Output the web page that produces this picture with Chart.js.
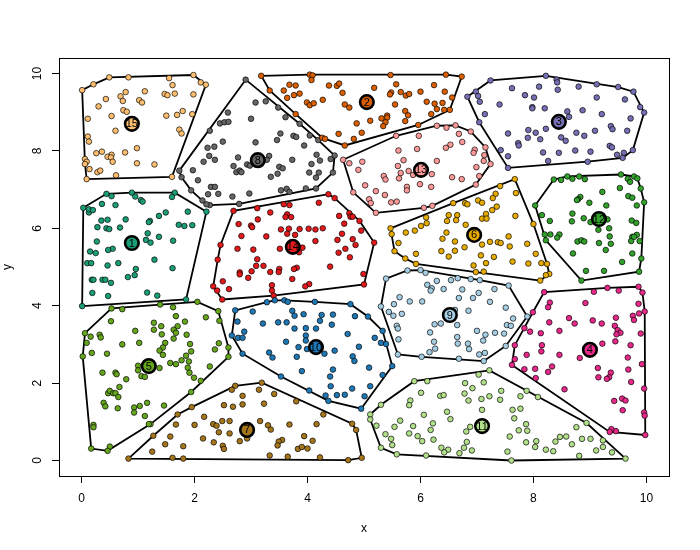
<!DOCTYPE html>
<html>
<head>
<meta charset="utf-8">
<style>body{margin:0;background:#fff}canvas{display:block}</style>
<script src="https://cdn.jsdelivr.net/npm/chart.js@4"></script>
</head>
<body>
<canvas id="plot" width="700" height="550"></canvas>
<script>
const tickValues = [0, 2, 4, 6, 8, 10];
const clusterColors = ['#1B9E77','#D95F02','#7570B3','#E7298A','#66A61E','#E6AB02','#A6761D','#666666','#A6CEE3','#1F78B4','#B2DF8A','#33A02C','#FB9A99','#E31A1C','#FDBF6F'];
const centerLabels = ['1','2','3','4','5','6','7','8','9','10','11','12','13','14','15'];
const centers = [[.89,5.62],[5.05,9.26],[8.45,8.75],[9.0,2.86],[1.19,2.44],[6.95,5.83],[2.93,.79],[3.12,7.76],[6.52,3.76],[4.15,2.93],[7.09,.89],[9.16,6.24],[6.01,7.51],[3.74,5.52],[.89,8.70]];

const cluster1 = [[.44,6.89],[.53,6.83],[.89,6.92],[.95,6.82],[1.05,6.73],[1.08,6.69],[1.65,6.92],[1.60,6.81],[.03,6.53],[.13,6.41],[.13,6.49],[.20,6.47],[.36,6.63],[.60,6.60],[2.21,6.43],[1.88,6.43],[1.49,6.41],[1.37,6.32],[.78,6.23],[.35,6.20],[.46,6.22],[1.21,6.19],[1.19,6.16],[.28,6.03],[.44,6.00],[.49,5.98],[.68,6.02],[1.72,6.09],[1.82,6.06],[1.96,6.08],[1.17,5.87],[1.37,5.78],[1.14,5.70],[1.22,5.63],[1.62,5.68],[.27,5.66],[.55,5.47],[.47,5.44],[.15,5.40],[.25,5.36],[1.29,5.19],[.10,5.10],[.17,5.10],[.65,5.10],[.46,5.04],[.96,4.95],[1.61,4.97],[.94,4.79],[.82,4.74],[.18,4.67],[.21,4.67],[.37,4.67],[.42,4.67],[.52,4.59],[.19,4.33],[.47,4.25],[1.16,4.34],[1.34,4.26],[1.85,4.16],[.01,3.99]];
const cluster2 = [[3.18,9.94],[4.04,9.97],[4.09,9.95],[4.07,9.83],[3.33,9.56],[3.68,9.71],[3.79,9.69],[3.58,9.56],[3.64,9.37],[3.76,9.44],[3.86,9.48],[4.38,9.69],[4.52,9.68],[4.56,9.74],[4.62,9.50],[3.99,9.25],[4.04,9.18],[4.11,9.23],[4.27,9.32],[4.66,9.20],[4.74,9.12],[3.79,8.95],[4.87,8.71],[4.55,8.44],[4.82,8.31],[4.26,8.34],[4.31,8.31],[4.66,8.14],[5.47,9.96],[6.45,9.97],[6.73,9.92],[5.57,9.72],[5.18,9.63],[6.24,9.70],[5.48,9.51],[5.46,9.46],[5.65,9.52],[5.74,9.43],[5.80,9.47],[6.00,9.53],[6.43,9.53],[6.56,9.38],[6.11,9.27],[6.25,9.22],[6.39,9.24],[5.55,9.20],[6.29,9.08],[6.42,9.06],[6.52,9.06],[5.73,9.03],[5.78,8.92],[6.19,8.95],[5.31,8.84],[5.41,8.91],[5.41,8.86],[5.38,8.74],[5.34,8.64],[5.73,8.77],[5.11,8.78],[4.96,8.47],[5.96,8.67]];
const cluster3 = [[7.24,9.82],[6.98,9.53],[6.83,9.40],[7.02,9.42],[7.05,9.27],[7.14,8.95],[7.04,8.74],[8.22,9.94],[9.12,9.72],[9.50,9.65],[9.77,9.53],[9.89,9.13],[9.96,8.99],[9.76,8.02],[9.60,7.95],[9.58,7.82],[9.48,7.90],[8.96,7.72],[7.55,7.56],[8.26,7.74],[8.41,9.84],[8.42,9.77],[8.43,9.58],[8.10,9.66],[7.62,9.62],[8.80,9.66],[7.85,9.44],[8.01,9.38],[9.12,9.38],[9.62,9.33],[7.40,9.20],[7.98,9.13],[7.98,9.10],[8.20,9.10],[8.60,9.02],[8.87,9.05],[8.63,8.88],[9.21,8.95],[9.72,8.84],[8.22,8.57],[7.91,8.54],[8.04,8.47],[7.55,8.45],[7.90,8.34],[8.12,8.30],[8.49,8.35],[8.57,8.26],[8.76,8.47],[8.90,8.39],[9.09,8.52],[9.37,8.64],[9.40,8.56],[9.66,8.52],[7.73,8.20],[7.74,8.14],[7.42,8.02],[7.55,7.86],[8.17,7.96],[8.45,7.95],[8.74,8.01],[9.01,7.98],[9.35,8.13],[9.39,8.09]];
const cluster4 = [[8.19,4.35],[9.07,4.36],[9.31,4.46],[9.51,4.39],[9.86,4.49],[9.93,4.34],[9.97,3.85],[9.98,.66],[9.46,.76],[9.38,.81],[9.35,.74],[7.62,2.47],[7.67,2.62],[7.67,2.98],[7.84,3.42],[7.99,3.83],[8.29,4.08],[8.26,3.96],[8.92,4.07],[9.86,4.05],[9.87,3.80],[9.76,3.74],[9.78,3.63],[9.46,3.69],[8.63,3.68],[8.73,3.54],[8.28,3.57],[9.05,3.62],[9.21,3.54],[9.44,3.48],[9.49,3.37],[9.54,3.30],[9.47,3.26],[9.90,3.28],[7.94,3.33],[8.13,3.29],[8.46,3.35],[9.45,3.08],[9.22,3.02],[9.72,2.98],[8.15,2.98],[8.14,2.82],[7.88,2.73],[8.46,2.73],[8.82,2.65],[9.67,2.66],[9.92,2.49],[8.33,2.43],[8.26,2.29],[7.84,2.36],[8.03,2.37],[8.04,2.13],[9.14,2.39],[9.68,2.35],[9.37,2.27],[9.34,2.15],[9.30,2.11],[9.15,2.15],[9.73,2.03],[8.55,1.84],[9.96,1.86],[9.57,1.60],[9.63,1.55],[9.43,1.54],[9.58,1.30],[9.96,1.24],[9.97,1.16]];
const cluster5 = [[.53,3.93],[.72,3.91],[1.39,4.03],[1.62,3.96],[2.05,4.10],[2.42,3.86],[2.44,3.61],[2.60,2.92],[2.60,2.68],[2.11,2.06],[1.94,1.77],[1.22,.94],[1.19,.94],[.50,.36],[.46,.25],[.17,.31],[.02,2.69],[.09,3.04],[.06,3.29],[.52,3.60],[1.67,3.73],[2.20,3.70],[1.83,3.59],[1.28,3.56],[1.41,3.47],[1.28,3.38],[1.70,3.47],[1.63,3.38],[1.67,3.30],[.95,3.35],[1.42,3.26],[1.86,3.25],[.16,3.20],[.32,3.25],[.34,3.18],[1.63,3.15],[.72,3.00],[1.02,3.04],[1.48,3.04],[1.92,3.01],[2.43,3.03],[2.36,2.87],[1.44,2.92],[1.38,2.84],[1.94,2.82],[.18,2.78],[.45,2.76],[1.44,2.73],[1.85,2.71],[1.77,2.59],[1.90,2.56],[1.57,2.52],[1.67,2.49],[1.88,2.40],[1.00,2.45],[1.00,2.33],[1.38,2.39],[2.27,2.43],[1.91,2.27],[1.99,2.14],[.37,2.27],[.60,2.27],[.62,2.23],[1.06,2.18],[1.12,2.16],[.79,2.10],[.67,1.90],[.47,1.74],[.50,1.80],[.56,1.74],[.60,1.74],[.65,1.64],[.39,1.49],[.42,1.40],[.64,1.35],[1.16,1.49],[1.03,1.41],[.93,1.37],[.93,1.24],[1.46,1.42],[1.12,1.15],[.21,.92],[.21,.86]];
const cluster6 = [[5.47,6.00],[5.49,5.85],[5.54,5.41],[5.61,5.62],[5.73,5.22],[5.92,5.34],[5.92,5.08],[5.74,5.89],[5.90,5.94],[6.01,6.06],[6.11,6.13],[6.10,6.28],[6.47,6.19],[6.50,6.34],[6.65,6.34],[6.63,6.21],[6.58,6.65],[6.79,6.65],[6.83,6.62],[7.02,6.72],[7.09,6.66],[7.33,6.89],[7.28,6.78],[7.35,6.56],[7.27,6.47],[7.16,6.37],[7.09,6.25],[7.17,6.25],[6.80,6.09],[6.46,5.89],[6.39,5.73],[6.61,5.66],[6.78,5.51],[6.37,5.41],[6.61,5.42],[6.50,5.27],[7.09,5.58],[7.23,5.65],[7.37,5.64],[7.07,5.30],[7.30,5.26],[7.16,5.10],[6.94,5.04],[6.98,4.87],[7.12,4.88],[7.67,7.27],[7.41,7.09],[7.69,6.91],[7.68,6.32],[8.00,6.11],[7.56,5.79],[7.42,5.62],[7.58,5.53],[7.89,5.60],[7.63,5.14],[7.91,5.09],[8.04,5.34],[8.14,5.10],[8.24,5.08],[8.28,4.82],[8.22,4.79],[8.12,4.65]];
const cluster7 = [[2.52,1.43],[1.95,1.38],[1.70,1.19],[2.17,1.13],[1.67,.93],[2.00,.92],[2.33,.94],[2.39,.90],[2.49,1.02],[2.62,1.02],[2.43,.73],[2.62,.70],[1.27,.64],[1.57,.62],[2.15,.57],[2.34,.47],[1.48,.42],[1.80,.37],[2.50,.38],[2.52,.30],[1.25,.23],[.83,.05],[1.61,.07],[1.80,.05],[2.72,1.93],[2.66,1.83],[3.19,2.01],[3.14,1.83],[3.41,1.72],[2.85,1.67],[2.85,1.45],[2.68,1.39],[3.23,1.47],[3.80,1.53],[4.28,1.19],[4.79,.95],[4.86,.79],[4.96,.07],[4.72,.01],[4.22,.08],[3.65,.10],[3.33,.13],[3.16,1.02],[3.30,.91],[3.35,.80],[3.68,.93],[4.16,.94],[2.80,.50],[2.93,.57],[3.94,.63],[4.09,.51],[3.55,.53],[3.49,.49],[3.47,.39],[3.83,.30],[3.90,.35],[4.00,.31]];
const cluster8 = [[2.27,8.52],[2.23,8.08],[2.35,8.11],[2.16,7.72],[2.26,7.87],[2.36,7.77],[1.97,7.50],[1.73,7.49],[1.77,7.32],[2.06,7.24],[1.94,6.98],[2.29,7.07],[2.36,7.07],[2.24,6.88],[2.42,6.89],[2.905,9.84],[3.08,9.25],[3.26,9.28],[3.48,9.12],[3.61,8.87],[3.86,8.70],[3.00,8.83],[2.59,8.99],[2.45,8.71],[2.53,8.74],[2.60,8.75],[3.52,8.45],[3.46,8.28],[3.75,8.39],[3.80,8.36],[3.08,8.22],[2.50,8.24],[4.04,8.40],[4.19,8.28],[3.94,8.14],[4.16,7.90],[4.22,7.75],[4.48,7.88],[4.41,7.79],[4.07,7.66],[2.77,7.83],[3.32,7.87],[3.28,7.77],[3.73,7.77],[2.69,7.61],[2.93,7.65],[2.98,7.62],[2.74,7.45],[2.80,7.49],[2.83,7.45],[3.50,7.59],[3.56,7.55],[3.47,7.41],[3.35,7.33],[4.03,7.44],[4.20,7.44],[4.15,7.31],[4.45,7.44],[4.15,7.03],[3.97,7.03],[3.53,6.98],[3.63,7.02],[3.68,6.94],[2.97,6.90],[2.67,6.82],[2.79,6.63],[2.27,6.60],[2.14,6.72],[2.21,6.62]];
const cluster9 = [[5.39,4.70],[5.77,4.91],[6.00,4.92],[6.09,4.85],[6.66,4.71],[6.89,4.69],[7.05,4.66],[7.56,4.52],[7.89,3.72],[7.51,2.96],[7.12,2.57],[6.68,2.63],[6.02,2.68],[5.60,2.74],[5.30,3.98],[6.12,4.54],[6.29,4.64],[6.54,4.66],[6.20,4.45],[6.18,4.39],[6.41,4.43],[6.74,4.42],[7.31,4.43],[6.68,4.20],[6.93,4.20],[7.03,4.33],[7.23,4.10],[5.63,4.22],[5.81,4.11],[6.03,4.11],[5.53,4.04],[5.44,3.84],[5.52,3.74],[5.67,3.79],[7.51,3.95],[6.85,3.87],[6.61,3.89],[7.64,3.67],[5.58,3.48],[5.60,3.41],[6.25,3.52],[6.36,3.54],[6.65,3.50],[7.53,3.50],[7.60,3.48],[6.17,3.31],[7.00,3.35],[7.32,3.30],[7.48,3.28],[7.15,3.25],[7.11,3.10],[5.61,3.13],[6.65,3.19],[6.24,3.07],[6.66,3.02],[6.84,3.02],[6.86,2.88],[6.26,2.89],[6.16,2.80],[7.04,2.74],[7.14,2.78]];
const cluster10 = [[2.72,3.88],[3.28,4.09],[3.42,4.14],[3.59,4.14],[3.65,4.10],[4.13,4.10],[4.76,4.04],[5.07,3.72],[5.33,3.35],[5.39,3.01],[5.50,2.44],[5.33,2.21],[4.95,1.34],[4.37,1.54],[4.03,1.81],[3.53,2.17],[2.85,2.76],[2.66,3.23],[3.03,3.85],[3.73,3.87],[3.77,3.74],[3.93,3.78],[4.25,3.76],[4.45,3.77],[4.84,3.73],[4.22,3.61],[4.43,3.51],[2.76,3.59],[3.21,3.54],[3.48,3.57],[3.63,3.57],[3.77,3.41],[3.97,3.42],[4.15,3.41],[2.88,3.33],[4.71,3.27],[3.97,3.23],[3.97,3.10],[2.77,3.17],[2.85,3.17],[3.62,3.07],[5.19,3.17],[5.30,3.04],[3.84,2.93],[3.99,2.88],[4.30,2.76],[4.48,2.84],[4.91,2.94],[3.32,2.79],[3.38,2.66],[3.81,2.68],[4.80,2.69],[4.83,2.57],[5.09,2.40],[3.90,2.31],[4.45,2.35],[4.40,2.17],[4.41,1.92],[4.79,1.86],[5.11,1.92],[4.52,1.69],[4.66,1.70],[4.32,1.68],[5.01,1.66]];
const cluster11 = [[7.22,2.33],[7.03,2.22],[6.12,2.05],[5.89,2.05],[5.30,1.44],[5.11,1.19],[5.11,1.06],[5.22,.90],[5.30,.33],[5.58,.16],[6.10,.13],[7.61,0],[6.79,2.00],[7.12,2.02],[6.92,1.87],[6.78,1.73],[6.01,1.75],[6.35,1.67],[6.41,1.69],[7.43,1.80],[7.22,1.66],[7.41,1.57],[7.08,1.59],[6.85,1.55],[7.88,1.80],[7.77,1.66],[5.82,1.55],[5.80,1.43],[7.09,1.31],[6.06,1.18],[6.47,1.26],[7.63,1.31],[7.77,1.34],[6.53,1.07],[7.66,1.09],[5.64,1.03],[5.54,.87],[5.87,.89],[6.22,.96],[6.18,.79],[6.88,.87],[6.81,.75],[5.80,.70],[5.95,.63],[6.03,.50],[6.23,.54],[5.38,.68],[5.48,.56],[5.50,.40],[7.58,.62],[7.74,.78],[7.87,.94],[7.89,.77],[6.82,.48],[6.77,.33],[6.91,.26],[6.69,.19],[6.37,.33],[6.49,.28],[6.42,.21],[7.54,.23],[7.87,.47],[8.08,1.64],[8.76,.86],[8.94,.97],[8.58,.62],[8.47,.61],[8.39,.49],[8.05,.50],[8.03,.35],[8.22,.28],[8.35,.24],[8.68,.42],[8.86,.56],[9.01,.56],[9.23,.52],[9.23,.35],[9.11,.26],[9.39,.21],[8.81,.12],[9.63,.05]];
const cluster12 = [[8.36,7.26],[8.49,7.25],[8.60,7.34],[8.69,7.28],[8.81,7.34],[8.91,7.27],[9.55,7.39],[9.67,7.28],[9.71,7.20],[9.78,7.34],[9.84,7.29],[9.90,7.03],[9.96,6.67],[9.91,5.22],[9.87,4.88],[8.85,4.65],[8.03,6.59],[8.15,6.34],[8.29,6.19],[8.20,5.84],[8.30,5.84],[8.22,5.69],[8.46,5.84],[8.42,5.76],[9.22,6.94],[9.53,7.04],[8.83,6.81],[8.79,6.75],[8.77,6.73],[8.99,6.66],[9.29,6.59],[9.68,6.83],[9.75,6.79],[9.83,6.59],[8.69,6.38],[8.68,6.18],[8.89,6.26],[9.01,6.16],[9.31,6.23],[9.74,6.20],[9.82,6.14],[9.15,5.96],[9.34,6.00],[9.35,5.79],[9.37,5.60],[9.16,5.62],[9.28,5.44],[8.78,5.66],[8.85,5.69],[8.90,5.66],[8.70,5.35],[9.75,5.35],[9.57,5.13],[8.93,4.90],[9.25,4.90],[9.75,5.78],[9.83,5.83],[9.73,5.67],[9.88,5.67],[9.78,5.78]];
const cluster13 = [[4.63,7.77],[4.74,7.68],[4.90,7.51],[4.81,6.93],[5.57,8.39],[5.97,8.39],[6.29,8.65],[6.46,8.60],[6.62,8.66],[6.68,8.44],[6.89,8.50],[6.74,8.23],[6.53,8.16],[6.45,8.08],[7.15,8.09],[6.96,8.03],[6.94,7.95],[7.13,7.89],[7.12,7.74],[7.24,7.66],[6.99,7.58],[7.04,7.35],[6.98,7.13],[6.73,7.27],[6.56,7.32],[5.61,8.01],[5.94,8.05],[5.70,7.76],[5.60,7.61],[6.29,7.74],[4.97,7.72],[5.35,7.35],[5.38,7.26],[5.65,7.43],[5.79,7.48],[5.62,7.29],[5.87,7.38],[6.20,7.40],[5.99,7.14],[5.76,7.07],[5.76,6.98],[6.19,7.07],[5.02,7.11],[5.21,6.96],[5.37,6.86],[5.09,6.75],[5.12,6.65],[5.48,6.67],[5.58,6.69],[5.21,6.40],[6.06,6.53],[6.21,6.58]];
const cluster14 = [[2.69,6.45],[3.11,6.52],[3.34,6.41],[3.58,6.62],[3.68,6.60],[4.37,6.88],[4.48,6.78],[4.20,6.66],[3.64,6.36],[3.61,6.29],[3.71,6.29],[4.74,6.39],[4.76,6.30],[4.80,6.30],[4.56,6.32],[3.12,6.23],[2.78,6.11],[3.00,6.07],[3.02,6.03],[4.65,6.12],[3.53,5.97],[3.67,5.99],[3.86,5.98],[4.02,5.99],[4.14,5.97],[4.27,6.00],[4.61,5.86],[3.64,5.86],[2.83,5.80],[3.27,5.79],[3.78,5.83],[4.53,5.70],[4.14,5.67],[4.80,5.72],[4.85,5.57],[2.46,5.57],[2.76,5.47],[3.04,5.45],[3.51,5.47],[3.91,5.50],[4.67,5.47],[4.55,5.37],[3.85,5.38],[4.75,5.25],[2.41,5.19],[3.11,5.20],[3.09,5.03],[3.22,5.03],[4.40,5.01],[3.81,4.98],[3.76,4.95],[3.50,4.95],[3.49,4.87],[3.01,4.89],[3.34,4.87],[2.80,4.86],[2.80,4.81],[2.95,4.72],[3.73,4.69],[2.50,4.63],[2.33,4.50],[2.40,4.39],[2.61,4.43],[3.37,4.53],[3.37,4.39],[4.03,4.56],[3.96,4.50],[3.40,4.26],[2.49,4.16],[4.92,6.19],[4.95,5.94],[5.18,5.63],[4.99,4.82],[5.00,4.55]];
const cluster15 = [[.01,9.57],[.21,9.72],[.49,9.90],[.83,9.90],[1.55,9.88],[1.98,9.96],[2.11,9.77],[2.20,9.71],[1.61,9.70],[.78,9.52],[1.12,9.54],[.69,9.41],[.73,9.29],[.43,9.34],[.30,9.15],[1.02,9.31],[1.07,9.25],[1.47,9.47],[1.52,9.44],[1.65,9.48],[1.98,9.46],[.74,9.05],[.80,9.01],[.53,8.90],[.11,8.83],[1.50,8.91],[1.69,8.93],[1.79,9.03],[1.96,8.95],[.60,8.52],[1.73,8.55],[1.77,8.45],[.11,8.37],[.13,8.24],[.98,8.07],[.26,7.94],[.36,7.98],[.77,7.96],[.53,7.90],[.46,7.85],[.52,7.83],[.55,7.72],[.06,7.79],[.09,7.72],[.06,7.66],[.98,7.68],[1.29,7.65],[.14,7.53],[.28,7.45],[.33,7.49],[.61,7.37],[.09,7.27],[1.60,7.33]];

const clusters = [cluster1, cluster2, cluster3, cluster4, cluster5, cluster6, cluster7, cluster8, cluster9, cluster10, cluster11, cluster12, cluster13, cluster14, cluster15];

const toPoints = (list) => list.map(p => ({ x: p[0], y: p[1] }));

// convex hull of one cluster, closed so the line comes back to its start
function hullOf(list) {
    const pts = [...list].sort((a, b) => a[0] - b[0] || a[1] - b[1]);
    const cross = (o, a, b) => (a[0] - o[0]) * (b[1] - o[1]) - (a[1] - o[1]) * (b[0] - o[0]);
    const half = (arr) => {
        const out = [];
        arr.forEach(p => {
            while (out.length >= 2 && cross(out[out.length - 2], out[out.length - 1], p) <= 0) out.pop();
            out.push(p);
        });
        out.pop();
        return out;
    };
    const hull = [...half(pts), ...half([...pts].reverse())];
    hull.push(hull[0]);
    return hull;
}

const datasets = [];
clusters.forEach((list) => {
    datasets.push({
        data: toPoints(hullOf(list)),
        showLine: true,
        borderColor: '#000',
        borderWidth: 1.8,
        pointRadius: 0,
        order: 3
    });
});
clusters.forEach((list, i) => {
    datasets.push({
        data: toPoints(list),
        backgroundColor: clusterColors[i],
        borderColor: 'rgba(0,0,0,0.85)',
        borderWidth: 0.8,
        pointRadius: 2.8,
        order: 2
    });
});
datasets.push({
    data: toPoints(centers),
    backgroundColor: clusterColors,
    borderColor: '#000',
    borderWidth: 2.6,
    pointRadius: 6.8,
    order: 1
});
const centerIndex = datasets.length - 1;

// R style frame around the plot, and the number inside each centre
const framePlugin = {
    id: 'frame',
    afterDatasetsDraw(chart) {
        const { ctx, chartArea: a } = chart;
        ctx.save();
        ctx.strokeStyle = '#000';
        ctx.lineWidth = 1;
        ctx.strokeRect(a.left + 0.5, a.top + 0.5, a.right - a.left, a.bottom - a.top);
        ctx.fillStyle = '#000';
        ctx.font = '11px "Liberation Sans"';
        ctx.textAlign = 'center';
        ctx.textBaseline = 'middle';
        chart.getDatasetMeta(centerIndex).data.forEach((el, i) => {
            ctx.fillText(centerLabels[i], el.x, el.y + 0.5);
        });
        ctx.restore();
    }
};

const axisFont = { family: '"Liberation Sans"', size: 12 };
const commonAxis = {
    type: 'linear',
    min: -0.4,
    max: 10.4,
    afterBuildTicks: (scale) => { scale.ticks = tickValues.map(v => ({ value: v })); },
    grid: { display: true, drawOnChartArea: false, drawTicks: true, tickLength: 7, color: '#000', lineWidth: 1 },
    border: { display: false }
};

new Chart(document.getElementById('plot'), {
    type: 'scatter',
    data: { datasets },
    plugins: [framePlugin],
    options: {
        responsive: false,
        animation: false,
        layout: { padding: { top: 58, right: 31, left: 0, bottom: 0 } },
        plugins: { legend: { display: false }, tooltip: { enabled: false } },
        scales: {
            x: {
                ...commonAxis,
                afterFit: (scale) => { scale.height = 74; },
                ticks: { font: axisFont, color: '#000', padding: 8, maxRotation: 0 },
                title: { display: true, text: 'x', font: axisFont, color: '#000', padding: { top: 19, bottom: 14 } }
            },
            y: {
                ...commonAxis,
                afterFit: (scale) => { scale.width = 59; },
                ticks: { font: axisFont, color: '#000', padding: 8, minRotation: 90, maxRotation: 90, crossAlign: 'center' },
                title: { display: true, text: 'y', font: axisFont, color: '#000', padding: { top: 0, bottom: 16 } }
            }
        }
    }
});
</script>
</body>
</html>
